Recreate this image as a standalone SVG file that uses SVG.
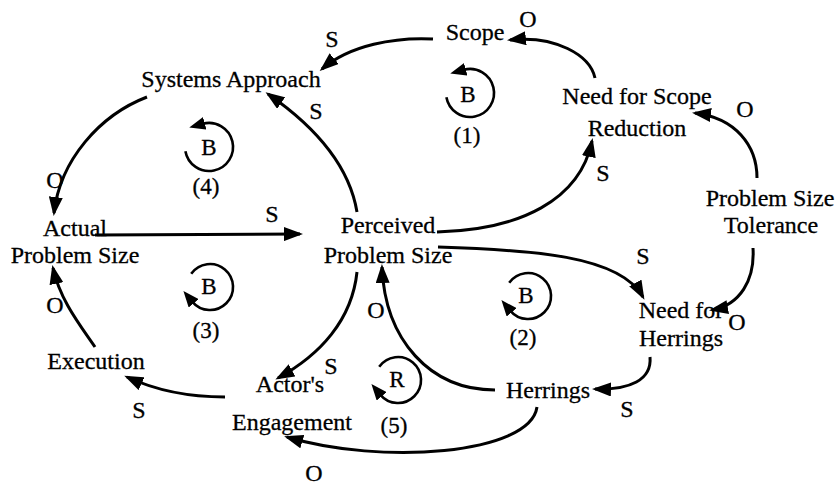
<svg xmlns="http://www.w3.org/2000/svg" width="839" height="486" viewBox="0 0 839 486">
<style>
  text { font-family: "Liberation Serif", "Times New Roman", serif; font-size: 24px; fill: #000; text-anchor: middle; stroke: #000; stroke-width: 0.3; }
  .loop text { font-size: 23px; }
  .conn path { fill: none; stroke: #000; stroke-width: 3; marker-end: url(#arrow); }
  .loop path { fill: none; stroke: #000; stroke-width: 2.6; marker-end: url(#larrow); }
</style>
<defs>
  <marker id="arrow" markerUnits="userSpaceOnUse" markerWidth="20" markerHeight="14" refX="16" refY="7" orient="auto">
    <path d="M0,0 L19,7 L0,14 Z" fill="#000"/>
  </marker>
  <marker id="larrow" markerUnits="userSpaceOnUse" markerWidth="17" markerHeight="13" refX="2" refY="6.5" orient="auto">
    <path d="M0,0 L16,6.5 L0,13 Z" fill="#000"/>
  </marker>
</defs>
<rect width="839" height="486" fill="#fff"/>

<g id="connectors" class="conn">
  <path d="M433,39 C395,37 350,45 322,69"/>
  <path d="M595,78 C590,55 555,35 510,40"/>
  <path d="M757,178 C757,145 735,118 695,113"/>
  <path d="M437,232 C520,230 580,200 592,141"/>
  <path d="M438,247 C530,250 620,255 643,297"/>
  <path d="M753,248 C755,280 740,305 712,310"/>
  <path d="M650,357 C652,380 630,390 595,389"/>
  <path d="M495,390 C430,390 385,340 382,267"/>
  <path d="M537,407 C530,455 380,465 287,437"/>
  <path d="M357,272 C352,320 320,355 278,378"/>
  <path d="M225,397 C190,397 155,390 127,377"/>
  <path d="M95,347 C80,325 60,300 53,268"/>
  <path d="M147,97 C100,115 60,160 54,213"/>
  <path d="M95,235 L300,234"/>
  <path d="M357,212 C350,170 320,130 268,94"/>
</g>

<g id="polarities">
  <text x="332" y="47">S</text>
  <text x="528" y="27">O</text>
  <text x="316" y="119">S</text>
  <text x="745" y="117">O</text>
  <text x="603" y="181">S</text>
  <text x="55" y="188">O</text>
  <text x="272" y="222">S</text>
  <text x="643" y="264">S</text>
  <text x="55" y="313">O</text>
  <text x="376" y="318">O</text>
  <text x="737" y="330">O</text>
  <text x="331" y="374">S</text>
  <text x="627" y="417">S</text>
  <text x="139" y="418">S</text>
  <text x="314" y="481">O</text>
</g>

<g id="node-scope"><text x="475" y="40">Scope</text></g>
<g id="node-systems-approach"><text x="231" y="87">Systems Approach</text></g>
<g id="node-need-scope-reduction"><text x="637" y="104">Need for Scope</text><text x="637" y="136">Reduction</text></g>
<g id="node-tolerance"><text x="770" y="206">Problem Size</text><text x="771" y="233">Tolerance</text></g>
<g id="node-actual"><text x="75" y="236">Actual</text><text x="75" y="263">Problem Size</text></g>
<g id="node-perceived"><text x="388" y="233">Perceived</text><text x="388" y="263">Problem Size</text></g>
<g id="node-need-herrings"><text x="681" y="318">Need for</text><text x="681" y="346">Herrings</text></g>
<g id="node-herrings"><text x="548" y="398">Herrings</text></g>
<g id="node-actors-engagement"><text x="290" y="392">Actor's</text><text x="292" y="430">Engagement</text></g>
<g id="node-execution"><text x="96" y="369">Execution</text></g>

<g id="loop-1" class="loop">
  <path d="M446.4,97.2 A24,24 0 1 0 463.8,69.8"/>
  <text x="468" y="102">B</text><text x="467" y="143">(1)</text>
</g>
<g id="loop-4" class="loop">
  <path d="M185.4,151.2 A24,24 0 1 0 202.8,123.8"/>
  <text x="209" y="155">B</text><text x="206" y="194">(4)</text>
</g>
<g id="loop-3" class="loop">
  <path d="M191.2,273.8 A23,23 0 1 1 192.4,301.8"/>
  <text x="209" y="294">B</text><text x="206" y="338">(3)</text>
</g>
<g id="loop-2" class="loop">
  <path d="M509.2,282.8 A23,23 0 1 1 510.4,310.8"/>
  <text x="526" y="303">B</text><text x="523" y="345">(2)</text>
</g>
<g id="loop-5" class="loop">
  <path d="M379.2,366.8 A23,23 0 1 1 380.4,394.8"/>
  <text x="397" y="387">R</text><text x="394" y="433">(5)</text>
</g>
</svg>
